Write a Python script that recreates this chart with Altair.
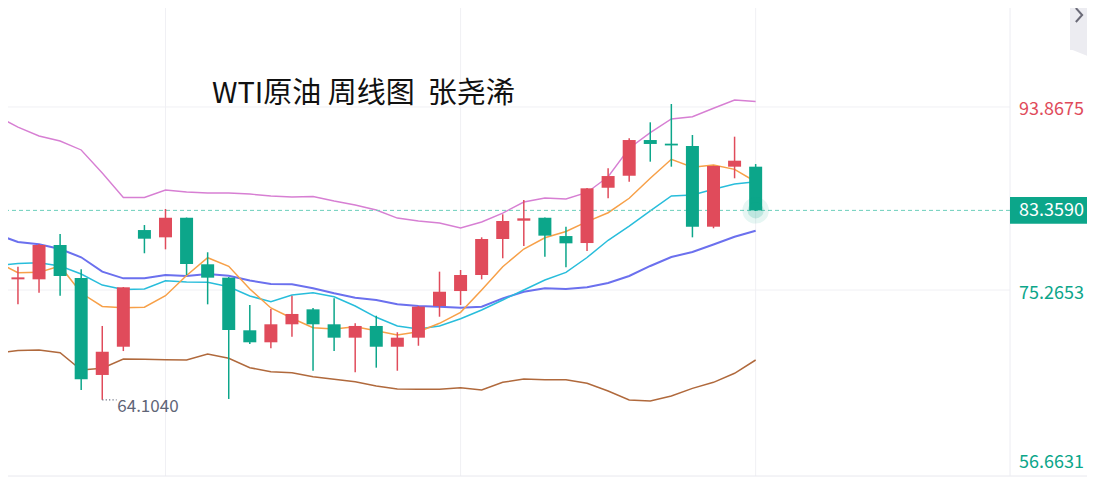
import altair as alt
import pandas as pd

FONT = "Noto Sans CJK SC"
RED = "#e04b5b"
GREEN = "#0ca68a"

title_text = "WTI原油 周线图\u00a0\u00a0张尧浠"

# weekly candles
week = list(range(1, 37))
opens = [76.35, 76.35, 79.84, 76.49, 66.63, 69.50, 81.36, 80.62, 82.61, 77.88, 76.52, 71.17,
         69.95, 71.78, 73.30, 71.78, 70.42, 71.61, 69.50, 70.42, 73.64, 75.16, 76.79, 80.45,
         82.31, 82.61, 80.75, 80.04, 85.66, 86.88, 90.51, 90.14, 89.90, 81.70, 87.80, 87.80]
closes = [76.55, 79.84, 76.69, 66.19, 68.99, 75.54, 80.48, 82.61, 77.91, 76.52, 71.20, 69.95,
          71.78, 72.83, 71.78, 70.42, 71.61, 69.50, 70.42, 73.57, 75.09, 76.79, 80.45, 82.28,
          82.55, 80.79, 80.01, 85.60, 86.85, 90.51, 90.11, 89.96, 81.70, 87.87, 88.41, 83.359]
highs = [77.63, 79.94, 80.96, 77.37, 71.61, 75.57, 81.87, 83.50, 82.63, 79.10, 76.59, 73.74,
         73.33, 74.69, 73.44, 74.42, 71.88, 72.65, 70.97, 73.64, 77.13, 77.30, 80.62, 82.96,
         84.41, 82.63, 81.70, 85.63, 87.64, 90.69, 92.31, 94.17, 91.02, 87.90, 90.85, 88.07]
lows = [73.81, 74.99, 74.69, 65.10, 64.104, 69.06, 79.00, 79.40, 76.79, 73.81, 64.19, 69.78,
        69.34, 70.52, 67.06, 69.06, 66.90, 67.37, 67.06, 69.60, 72.55, 73.74, 76.35, 78.49,
        79.74, 78.65, 77.57, 79.23, 84.59, 86.27, 88.31, 87.80, 80.62, 81.54, 86.62, 83.30]

# indicator lines (week 0 is the week before the first visible candle)
line_week = list(range(0, 37))
ma5 = [78.11, 77.02, 77.06, 77.71, 74.96, 73.59, 73.47, 73.51, 74.69, 76.74, 78.55, 77.67,
       75.37, 73.44, 72.39, 71.43, 71.30, 71.54, 71.13, 70.69, 71.03, 71.88, 73.00, 75.27,
       77.63, 79.43, 80.58, 81.21, 82.21, 83.12, 84.59, 86.62, 88.55, 87.74, 87.97, 87.53, 86.27]
ma10 = [77.76, 77.96, 78.04, 77.71, 76.89, 75.77, 75.32, 75.37, 76.21, 76.08, 76.05, 75.60,
        74.66, 74.08, 74.76, 74.99, 74.58, 73.64, 72.49, 71.61, 71.30, 71.61, 72.35, 73.23,
        74.25, 75.27, 76.28, 77.06, 78.57, 80.32, 81.77, 83.30, 84.82, 84.92, 85.50, 86.04, 86.27]
ma20 = [80.92, 80.14, 79.91, 79.43, 78.59, 77.13, 76.45, 76.45, 76.79, 76.69, 76.89, 76.71,
        76.23, 75.88, 75.84, 75.44, 74.93, 74.48, 74.25, 73.81, 73.64, 73.57, 73.47, 73.57,
        74.42, 75.09, 75.44, 75.37, 75.54, 75.98, 76.69, 77.71, 78.62, 79.13, 79.89, 80.68, 81.29]
upper = [92.95, 91.83, 90.92, 90.41, 89.50, 87.16, 84.67, 84.67, 85.43, 85.23, 85.13, 85.13,
         85.02, 84.82, 84.72, 84.77, 84.31, 83.91, 83.40, 82.58, 82.28, 82.08, 81.57, 82.18,
         83.09, 84.21, 84.62, 84.52, 85.18, 86.78, 89.67, 91.26, 92.65, 92.88, 93.74, 94.58, 94.43]
lower = [68.86, 69.12, 69.17, 68.89, 67.13, 67.31, 68.25, 68.22, 68.18, 68.15, 68.76, 68.32,
         67.37, 66.96, 66.86, 66.45, 66.19, 65.94, 65.51, 65.20, 65.17, 65.17, 65.33, 65.10,
         65.88, 66.22, 66.15, 66.15, 65.78, 65.00, 64.08, 63.98, 64.49, 65.27, 65.88, 66.80, 68.15]

axis_levels = [93.8675, 75.2653, 56.6631]
axis_level_colors = [RED, GREEN, GREEN]
last_price = 83.3590
low_mark_week = 5
low_mark_value = 64.1040
grid_weeks = [8, 22, 36]

# ---------------------------------------------------------------
W, H = 1002, 468
RIGHT = 77
xs = alt.Scale(domain=[0.765, 47.83], nice=False, zero=False)
ys = alt.Scale(domain=[56.36, 103.93], nice=False, zero=False)
X = lambda f: alt.X(f, type="quantitative", scale=xs, axis=None)
Y = lambda f: alt.Y(f, type="quantitative", scale=ys, axis=None)

cdf = pd.DataFrame({"week": week, "open": opens, "high": highs, "low": lows, "close": closes})
cdf["dir"] = ["up" if c >= o else "down" for o, c in zip(opens, closes)]
ldf = pd.DataFrame({"week": line_week, "ma5": ma5, "ma10": ma10, "ma20": ma20,
                    "upper": upper, "lower": lower})
cscale = alt.Scale(domain=["up", "down"], range=[RED, GREEN])

layers = []

# grid
layers.append(alt.Chart(pd.DataFrame({"week": grid_weeks})).mark_rule(
    color="#f0f0f4", strokeWidth=1).encode(x=X("week")))
layers.append(alt.Chart(pd.DataFrame({"v": axis_levels[:2]})).mark_rule(
    color="#f0f0f4", strokeWidth=1).encode(y=Y("v")))
layers.append(alt.Chart(pd.DataFrame({"a": [0]})).mark_rule(
    color="#e8e8ee", strokeWidth=1).encode(x=alt.value(0), x2=alt.value(W + RIGHT), y=alt.value(H)))
layers.append(alt.Chart(pd.DataFrame({"a": [0]})).mark_rule(
    color="#ececf2", strokeWidth=1).encode(x=alt.value(W), y=alt.value(0), y2=alt.value(H)))

# indicator lines
for col, colr, sw in [("upper", "#d77fd3", 1.4), ("lower", "#b0693c", 1.5),
                      ("ma20", "#6b70ee", 2.0), ("ma10", "#28bddb", 1.5),
                      ("ma5", "#f7a048", 1.5)]:
    layers.append(alt.Chart(ldf).mark_line(color=colr, strokeWidth=sw, clip=True).encode(
        x=X("week"), y=Y(col)))

# last price dashed line
layers.append(alt.Chart(pd.DataFrame({"v": [last_price]})).mark_rule(
    color="#6ccfbb", strokeWidth=1, strokeDash=[4, 3]).encode(y=Y("v")))

# candles
layers.append(alt.Chart(cdf).mark_rule(strokeWidth=1.5).encode(
    x=X("week"), y=Y("low"), y2="high",
    color=alt.Color("dir:N", scale=cscale, legend=None)))
layers.append(alt.Chart(cdf).mark_bar(size=13).encode(
    x=X("week"), y=Y("open"), y2="close",
    color=alt.Color("dir:N", scale=cscale, legend=None)))

# glow on last candle
gdf = pd.DataFrame({"week": [week[-1]], "v": [last_price]})
layers.append(alt.Chart(gdf).mark_circle(color=GREEN, opacity=0.10, size=700).encode(
    x=X("week"), y=Y("v")))
layers.append(alt.Chart(gdf).mark_circle(color=GREEN, opacity=0.18, size=260).encode(
    x=X("week"), y=Y("v")))

# low annotation
adf = pd.DataFrame({"week": [low_mark_week], "w2": [low_mark_week + 0.68],
                    "v": [low_mark_value], "t": [f"{low_mark_value:.4f}"]})
layers.append(alt.Chart(adf).mark_rule(color="#6a6f80", strokeWidth=1.2, strokeDash=[1.2, 2.2]).encode(
    x=X("week"), x2="w2", y=Y("v")))
layers.append(alt.Chart(adf).mark_text(align="left", baseline="middle", dx=15, dy=7,
                                       font=FONT, fontSize=17, color="#5f6577").encode(
    x=X("week"), y=Y("v"), text="t:N"))

# right-side price labels
for lvl, colr, dy in zip(axis_levels, axis_level_colors, [3, 4, -10]):
    layers.append(alt.Chart(pd.DataFrame({"v": [lvl], "t": [f"{lvl:.4f}"]})).mark_text(
        align="left", baseline="middle", dy=dy, font=FONT, fontSize=18, color=colr).encode(
        x=alt.value(W + 9), y=Y("v"), text="t:N"))

pdf = pd.DataFrame({"v": [last_price], "t": [f"{last_price:.4f}"]})
layers.append(alt.Chart(pdf).mark_point(
    shape="M-1,-0.35 L1,-0.35 L1,0.35 L-1,0.35 Z", filled=True, opacity=1, size=RIGHT * RIGHT,
    color=GREEN, strokeWidth=0).encode(x=alt.value(W + RIGHT / 2), y=Y("v")))
layers.append(alt.Chart(pdf).mark_text(
    align="left", baseline="middle", dy=1, font=FONT, fontSize=18, color="white").encode(
    x=alt.value(W + 9), y=Y("v"), text="t:N"))

# top-right tab
layers.append(alt.Chart(pd.DataFrame({"a": [0]})).mark_rect(color="#ececf1").encode(
    x=alt.value(1062), x2=alt.value(1090), y=alt.value(0), y2=alt.value(42)))
layers.append(alt.Chart(pd.DataFrame({"a": [0]})).mark_point(
    shape="M-1,-0.4 L1,-0.4 L1,0.4 Z", filled=True, opacity=1, size=625,
    color="#ececf1", strokeWidth=0).encode(x=alt.value(1074.5), y=alt.value(46)))
layers.append(alt.Chart(pd.DataFrame({"a": [0]})).mark_point(
    shape="M-0.45,-1 L0.45,0 L-0.45,1", filled=False, opacity=1, size=196,
    color="#6b6b78", strokeWidth=2).encode(x=alt.value(1071), y=alt.value(7)))

# title
layers.append(alt.Chart(pd.DataFrame({"t": [title_text]})).mark_text(
    align="left", baseline="middle", font=FONT, fontSize=29, color="#111111").encode(
    x=alt.value(204), y=alt.value(86), text="t:N"))

chart = alt.layer(*layers).properties(
    width=W, height=H,
    autosize=alt.AutoSizeParams(type="none"),
    padding={"left": 0, "top": 0, "right": RIGHT, "bottom": 4},
    background="white",
).configure_view(stroke=None)

chart.save("out.html", embed_options={"renderer": "svg", "actions": False})
